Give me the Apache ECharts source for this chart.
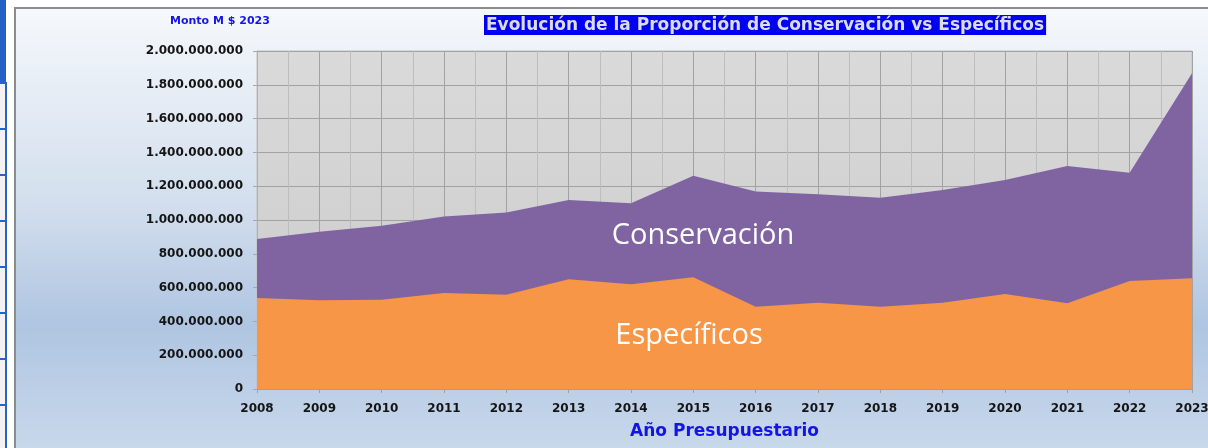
<!DOCTYPE html>
<html>
<head>
<meta charset="utf-8">
<script src="https://cdn.jsdelivr.net/npm/echarts@6/dist/echarts.min.js"></script>
<style>
  html, body { margin: 0; padding: 0; background: #fff; }
  body { width: 1208px; height: 448px; position: relative; overflow: hidden; }
  #side { position: absolute; left: 0; top: 0; width: 7px; height: 448px; }
  #side .top { position: absolute; left: 0; top: 0; width: 6px; height: 82px; background: #2561c4; }
  #side .cell { position: absolute; left: 0; width: 5px; height: 44px; background: #f2f2f2;
    border-right: 2px solid #2a62c8; border-top: 2px solid #2a62c8; }
  #frame { position: absolute; left: 14px; top: 7px; width: 1194px; height: 441px;
    border-left: 2px solid #8c8c8c; border-top: 2px solid #8c8c8c; box-sizing: border-box; }
  #chart { position: absolute; left: 16px; top: 9px; width: 1192px; height: 439px; }
</style>
</head>
<body>
<div id="side"><div class="top"></div></div>
<div id="frame"></div>
<div id="chart"></div>
<script>
// años presupuestarios
const years = [2008, 2009, 2010, 2011, 2012, 2013, 2014, 2015, 2016, 2017, 2018, 2019, 2020, 2021, 2022, 2023]
// Específicos (M $ 2023)
const especificos = [538e6, 525e6, 528e6, 568e6, 558e6, 649e6, 620e6, 661e6, 487e6, 511e6, 487e6, 511e6, 562e6, 507e6, 639e6, 655e6]
// Conservación (M $ 2023), va encima de Específicos
const conservacion = [350e6, 406e6, 438e6, 452e6, 487e6, 469e6, 479e6, 601e6, 681e6, 641e6, 645e6, 667e6, 675e6, 813e6, 641e6, 1213e6]
// el eje x es de valores (para tener lineas menores), asi que el apilado se hace a mano
const totales = conservacion.map((v, i) => v + especificos[i])

// celdas de la tabla a la izquierda
const side = document.getElementById('side')
for (let y = 82; y < 448; y += 46) {
  const c = document.createElement('div')
  c.className = 'cell'
  c.style.top = y + 'px'
  side.appendChild(c)
}

const fmt = (v) => String(Math.round(v)).replace(/\B(?=(\d{3})+(?!\d))/g, '.')
const pairs = (arr) => arr.map((v, i) => [years[i], v])
const labelFont = 'DejaVu Sans'

const chart = echarts.init(document.getElementById('chart'))
chart.setOption({
  animation: false,
  backgroundColor: new echarts.graphic.LinearGradient(0, 0, 0, 1, [
    { offset: 0, color: '#f6f9fc' },
    { offset: 0.1, color: '#edf2f8' },
    { offset: 0.45, color: '#d2deed' },
    { offset: 0.72, color: '#afc5e1' },
    { offset: 1, color: '#c8d8eb' }
  ]),
  textStyle: { fontFamily: labelFont },
  title: {
    text: 'Evolución de la Proporción de Conservación vs Específicos',
    left: 468,
    top: 6,
    backgroundColor: '#0000f2',
    padding: [2, 2, 1, 2],
    textStyle: { color: '#dcdce6', fontSize: 17, fontWeight: 'bold', fontFamily: labelFont }
  },
  grid: {
    left: 241,
    right: 16,
    top: 42,
    bottom: 59,
    outerBoundsMode: 'none',
    show: true,
    borderColor: '#c0c0c0',
    borderWidth: 1,
    backgroundColor: new echarts.graphic.LinearGradient(0, 0, 0, 1, [
      { offset: 0, color: '#dadada' },
      { offset: 1, color: '#c9c9c9' }
    ])
  },
  xAxis: {
    type: 'value',
    min: 2008,
    max: 2023,
    interval: 1,
    name: 'Año Presupuestario',
    nameLocation: 'middle',
    nameGap: 34,
    nameTextStyle: { color: '#1414e6', fontSize: 17, fontWeight: 'bold', fontFamily: labelFont },
    axisLine: { lineStyle: { color: '#a0a0a0' } },
    axisTick: { show: true, length: 4, lineStyle: { color: '#a0a0a0' } },
    axisLabel: { color: '#141414', fontSize: 12, fontWeight: 'bold', margin: 14, formatter: (v) => String(v) },
    splitLine: { show: true, lineStyle: { color: '#a2a2a2', width: 1 } },
    minorTick: { show: false, splitNumber: 2 },
    minorSplitLine: { show: true, lineStyle: { color: '#bdbdbd', width: 1 } }
  },
  yAxis: {
    type: 'value',
    min: 0,
    max: 2000000000,
    interval: 200000000,
    axisLine: { show: true, lineStyle: { color: '#b0b0b0' } },
    axisTick: { show: true, length: 4, lineStyle: { color: '#a8a8a8' } },
    axisLabel: { color: '#141414', fontSize: 12, fontWeight: 'bold', margin: 14, formatter: fmt },
    splitLine: { show: true, lineStyle: { color: '#a2a2a2', width: 1 } }
  },
  series: [
    {
      name: 'Conservación',
      type: 'line',
      data: pairs(totales),
      showSymbol: false,
      lineStyle: { width: 0 },
      areaStyle: { color: '#8064a2', opacity: 1 },
      z: 2
    },
    {
      name: 'Específicos',
      type: 'line',
      data: pairs(especificos),
      showSymbol: false,
      lineStyle: { width: 0 },
      areaStyle: { color: '#f79646', opacity: 1 },
      z: 3
    }
  ],
  graphic: [
    {
      type: 'text',
      left: 154,
      top: 7,
      style: { text: 'Monto M $ 2023', fill: '#1414e6', font: 'bold 11px "DejaVu Sans"' }
    },
    {
      type: 'text',
      x: 687,
      y: 227,
      z: 10,
      style: { text: 'Conservación', fill: '#ffffff', font: '29px "Open Sans"', align: 'center', verticalAlign: 'middle' }
    },
    {
      type: 'text',
      x: 673,
      y: 327,
      z: 10,
      style: { text: 'Específicos', fill: '#ffffff', font: '29px "Open Sans"', align: 'center', verticalAlign: 'middle' }
    }
  ]
})
</script>
</body>
</html>
